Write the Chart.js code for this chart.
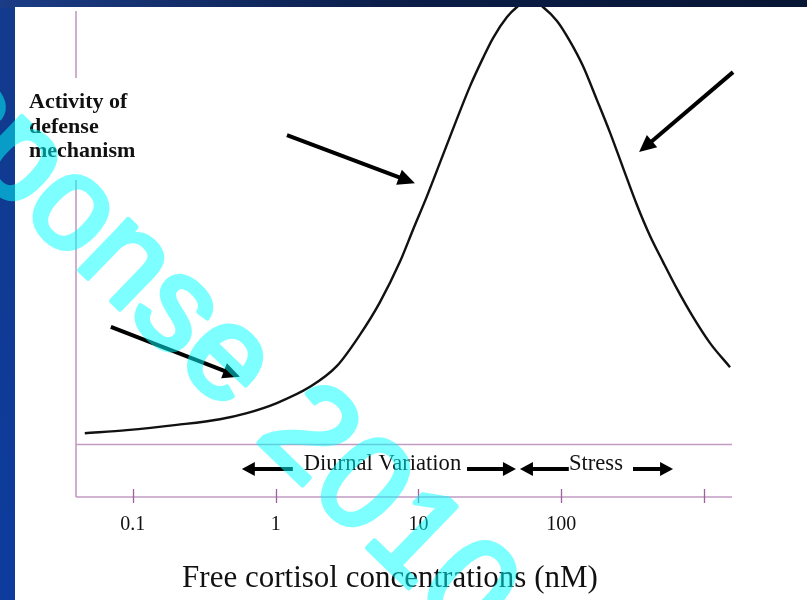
<!DOCTYPE html>
<html>
<head>
<meta charset="utf-8">
<script src="https://cdn.jsdelivr.net/npm/chart.js@4.4.1/dist/chart.umd.min.js"></script>
<style>
  html, body { margin: 0; padding: 0; background: #0d3a94; }
  canvas { display: block; }
</style>
</head>
<body>
<canvas id="c" width="807" height="600"></canvas>
<script>
// ---- data ----
const cortisol = [0.0461, 0.0908, 0.203, 0.407, 0.629, 1.02, 1.74, 2.69, 3.89, 5.38, 7.42, 9.15, 11.5, 14.2, 18.6, 23.0, 28.3, 33.3, 41.7, 49.0, 60.4, 74.5, 93.4, 115, 142, 178, 220, 271, 339, 419, 516, 647, 837, 1102, 1521];
const activity = [2.5, 3.2, 4.4, 5.7, 7.1, 9.4, 13.1, 17.9, 25.0, 32.5, 41.7, 49.0, 56.8, 64.5, 74.4, 81.9, 88.3, 92.9, 97.7, 100.0, 101.8, 100.0, 96.8, 92.2, 86.5, 78.7, 71.2, 63.2, 54.7, 47.6, 41.7, 35.5, 29.1, 23.1, 17.6];

const tickValues = [0.1, 1, 10, 100, 1000];
const tickLabels = ['0.1', '1', '10', '100', ''];

const yLabelLines = ['Activity of', 'defense', 'mechanism'];
const xTitle = 'Free cortisol concentrations (nM)';

// pointer arrows (data coordinates)
const arrowFromX = [1.20, 1597, 0.0702];
const arrowFromY = [70.7, 85.1, 26.8];
const arrowToX = [9.45, 351, 0.562];
const arrowToY = [59.7, 66.8, 15.4];

// range annotations below the baseline
const rangeLabels = ['Diurnal Variation', 'Stress'];
const rangeCenter = [5.6, 175];
const rangeLeftTip = [0.58, 51.4];
const rangeLeftEnd = [1.32, 113];
const rangeRightStart = [21.9, 318];
const rangeRightTip = [48.2, 607];
const rangeLevel = -5.7;

const watermark = 'Response 2010';

// ---- drawing helpers ----
function arrow(ctx, x1, y1, x2, y2, w, hl, hw) {
  const a = Math.atan2(y2 - y1, x2 - x1);
  const bx = x2 - hl * Math.cos(a), by = y2 - hl * Math.sin(a);
  ctx.beginPath();
  ctx.lineWidth = w;
  ctx.lineCap = 'butt';
  ctx.moveTo(x1, y1);
  ctx.lineTo(bx + Math.cos(a), by + Math.sin(a));
  ctx.stroke();
  ctx.beginPath();
  ctx.moveTo(x2, y2);
  ctx.lineTo(bx + hw * Math.sin(a), by - hw * Math.cos(a));
  ctx.lineTo(bx - hw * Math.sin(a), by + hw * Math.cos(a));
  ctx.closePath();
  ctx.fill();
}

const decor = {
  id: 'decor',
  beforeDraw(chart) {
    const ctx = chart.ctx, W = chart.width, H = chart.height;
    ctx.save();
    const g = ctx.createLinearGradient(0, 0, 0, H);
    g.addColorStop(0, '#123a8c');
    g.addColorStop(1, '#0d3c9e');
    ctx.fillStyle = g;
    ctx.fillRect(0, 0, W, H);
    const t = ctx.createLinearGradient(0, 0, W, 0);
    t.addColorStop(0, '#1b3c86');
    t.addColorStop(0.5, '#0b1d48');
    t.addColorStop(1, '#081634');
    ctx.fillStyle = t;
    ctx.fillRect(0, 0, W, 8);
    ctx.fillStyle = '#ffffff';
    ctx.fillRect(15, 7, W - 15, H - 7);
    ctx.restore();
  },
  beforeDatasetsDraw(chart) {
    const ctx = chart.ctx, a = chart.chartArea;
    const xs = chart.scales.x, ys = chart.scales.y;
    ctx.save();
    ctx.strokeStyle = '#c29bc2';
    ctx.lineWidth = 1.6;
    ctx.beginPath();
    ctx.moveTo(a.left, 11);
    ctx.lineTo(a.left, a.bottom);
    ctx.stroke();
    const y0 = Math.round(ys.getPixelForValue(0)) + 0.5;
    ctx.beginPath();
    ctx.moveTo(a.left, y0);
    ctx.lineTo(a.right, y0);
    ctx.stroke();
    ctx.beginPath();
    ctx.moveTo(a.left, a.bottom);
    ctx.lineTo(a.right, a.bottom);
    ctx.stroke();
    ctx.strokeStyle = '#a060a0';
    ctx.lineWidth = 1.3;
    tickValues.forEach(v => {
      const x = Math.round(xs.getPixelForValue(v)) + 0.5;
      ctx.beginPath();
      ctx.moveTo(x, a.bottom - 8);
      ctx.lineTo(x, a.bottom + 6);
      ctx.stroke();
    });
    ctx.restore();
  },
  afterDatasetsDraw(chart) {
    const ctx = chart.ctx;
    const xs = chart.scales.x, ys = chart.scales.y;
    ctx.save();
    ctx.fillStyle = '#000';
    ctx.strokeStyle = '#000';
    for (let i = 0; i < arrowFromX.length; i++) {
      arrow(ctx,
        xs.getPixelForValue(arrowFromX[i]), ys.getPixelForValue(arrowFromY[i]),
        xs.getPixelForValue(arrowToX[i]), ys.getPixelForValue(arrowToY[i]),
        4, 17, 8);
    }
    const ry = ys.getPixelForValue(rangeLevel);
    ctx.font = '22.6px "Liberation Serif", "Times New Roman", serif';
    ctx.textAlign = 'center';
    ctx.textBaseline = 'alphabetic';
    ctx.fillStyle = '#111';
    for (let i = 0; i < rangeLabels.length; i++) {
      ctx.fillText(rangeLabels[i], xs.getPixelForValue(rangeCenter[i]), ry + 1);
    }
    ctx.fillStyle = '#000';
    for (let i = 0; i < rangeLabels.length; i++) {
      arrow(ctx, xs.getPixelForValue(rangeLeftEnd[i]), ry, xs.getPixelForValue(rangeLeftTip[i]), ry, 4, 13, 7);
      arrow(ctx, xs.getPixelForValue(rangeRightStart[i]), ry, xs.getPixelForValue(rangeRightTip[i]), ry, 4, 13, 7);
    }
    ctx.fillStyle = '#ffffff';
    ctx.fillRect(22, 78, 122, 102);
    ctx.fillStyle = '#111';
    ctx.font = 'bold 22px "Liberation Serif", "Times New Roman", serif';
    ctx.textAlign = 'left';
    yLabelLines.forEach((s, i) => ctx.fillText(s, 29, 108 + i * 24.5));
    ctx.font = '31px "Liberation Serif", "Times New Roman", serif';
    ctx.textAlign = 'center';
    ctx.fillText(xTitle, 390, 587);
    ctx.restore();
  },
  afterDraw(chart) {
    const ctx = chart.ctx;
    // watermark: opaque on a layer, then composited at half opacity
    const off = document.createElement('canvas');
    off.width = chart.width; off.height = chart.height;
    const o = off.getContext('2d');
    o.translate(-203.5, -3.4);
    o.rotate(44 * Math.PI / 180);
    o.font = '133px "Liberation Sans", Arial, sans-serif';
    o.fillStyle = '#00ffff';
    o.strokeStyle = '#00ffff';
    o.lineWidth = 5;
    o.lineJoin = 'round';
    o.textAlign = 'left';
    o.textBaseline = 'alphabetic';
    o.fillText(watermark, 0, 0);
    o.strokeText(watermark, 0, 0);
    ctx.save();
    ctx.globalAlpha = 0.5;
    ctx.drawImage(off, 0, 0);
    ctx.restore();
  }
};

new Chart(document.getElementById('c'), {
  type: 'line',
  data: {
    datasets: [{
      data: cortisol.map((x, i) => ({ x: x, y: activity[i] })),
      borderColor: '#111',
      borderWidth: 2.4,
      pointRadius: 0,
      cubicInterpolationMode: 'monotone',
      fill: false
    }]
  },
  options: {
    responsive: false,
    animation: false,
    devicePixelRatio: 1,
    layout: { padding: { left: 76, right: 75, top: 7, bottom: 0 } },
    plugins: { legend: { display: false }, tooltip: { enabled: false } },
    scales: {
      x: {
        type: 'logarithmic',
        min: 0.04,
        max: 1570,
        afterBuildTicks: s => { s.ticks = tickValues.map(v => ({ value: v })); },
        afterFit: s => { s.height = 103; },
        grid: { display: false },
        border: { display: false },
        ticks: {
          autoSkip: false,
          maxRotation: 0,
          padding: 8,
          color: '#111',
          font: { family: '"Liberation Serif", "Times New Roman", serif', size: 20 },
          callback: v => { const k = tickValues.indexOf(v); return k >= 0 ? tickLabels[k] : ''; }
        }
      },
      y: {
        type: 'linear',
        display: false,
        min: -12.1,
        max: 100
      }
    }
  },
  plugins: [decor]
});
</script>
</body>
</html>
